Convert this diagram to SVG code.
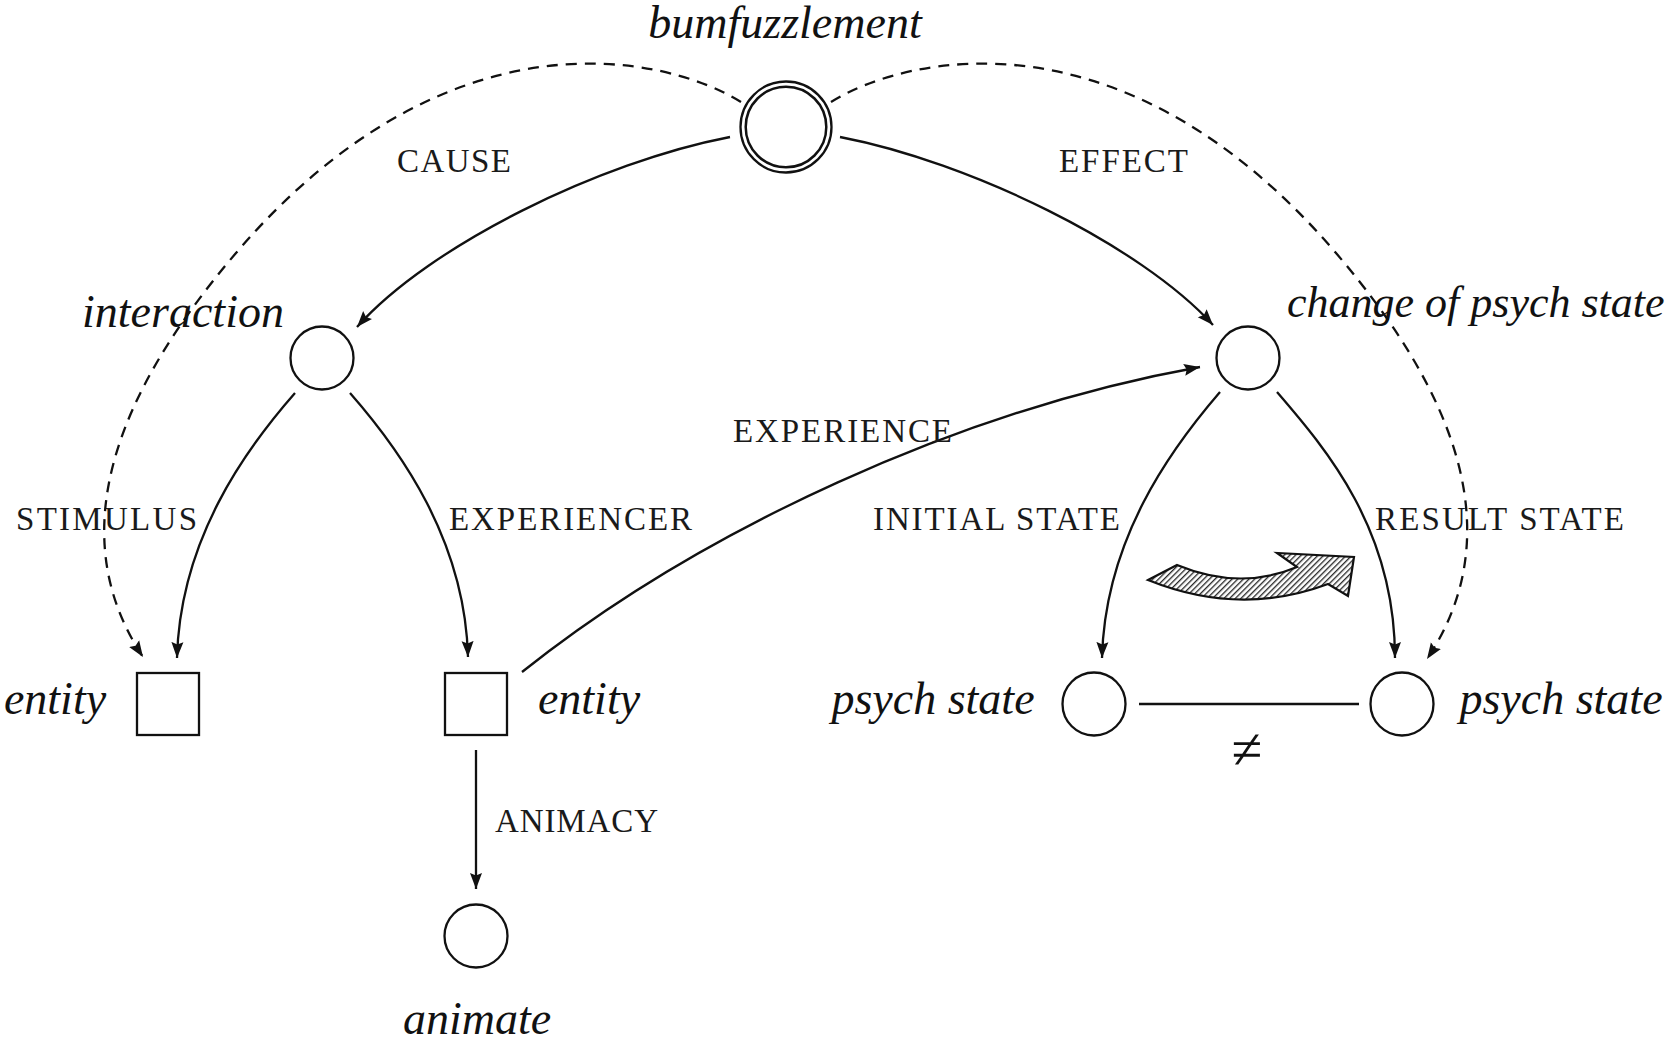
<svg xmlns="http://www.w3.org/2000/svg" width="1667" height="1041" viewBox="0 0 1667 1041">
<defs>
<style>
.node{fill:#fff;stroke:#111;stroke-width:2.3}
.lbl{font-family:"Liberation Serif",serif;font-style:italic;font-size:46px;fill:#111}
.sc{font-family:"Liberation Serif",serif;font-size:33px;fill:#1a1a1a}
.edge{fill:none;stroke:#111;stroke-width:2.3}
.arr{marker-end:url(#ah)}
.dash{stroke-dasharray:11 8}
</style>
<marker id="ah" markerUnits="userSpaceOnUse" viewBox="0 0 17 13" markerWidth="17" markerHeight="13" refX="16" refY="6.5" orient="auto">
<path d="M0,0.5 L16,6.5 L0,12.5 L2.5,6.5 z" fill="#111"/>
</marker>
<pattern id="hatch" patternUnits="userSpaceOnUse" width="4" height="4" patternTransform="rotate(45)">
<rect width="4" height="4" fill="#fff"/>
<line x1="0.7" y1="0" x2="0.7" y2="4" stroke="#111" stroke-width="1.2"/>
</pattern>
</defs>
<rect width="1667" height="1041" fill="#fff"/>

<g id="connectors">
<g id="e-cause"><path class="edge arr" d="M730,137 C600,162 430,245 357,327"/><text class="sc" x="397" y="172" textLength="114" lengthAdjust="spacing">CAUSE</text></g>
<g id="e-effect"><path class="edge arr" d="M840,137 C970,162 1140,245 1213,325"/><text class="sc" x="1059" y="172" textLength="129" lengthAdjust="spacing">EFFECT</text></g>
<g id="e-stimulus"><path class="edge arr" d="M295,393 C245,450 180,540 177,658"/><text class="sc" x="16" y="530" textLength="181" lengthAdjust="spacing">STIMULUS</text></g>
<g id="e-experiencer"><path class="edge arr" d="M350,393 C400,450 465,540 468,657"/><text class="sc" x="449" y="530" textLength="243" lengthAdjust="spacing">EXPERIENCER</text></g>
<g id="e-experience"><path class="edge arr" d="M522,672 C700,530 960,410 1200,367"/><text class="sc" x="733" y="442" textLength="219" lengthAdjust="spacing">EXPERIENCE</text></g>
<g id="e-initial"><path class="edge arr" d="M1220,392 C1170,450 1105,540 1102,658"/><text class="sc" x="873" y="530" textLength="247" lengthAdjust="spacing">INITIAL STATE</text></g>
<g id="e-result"><path class="edge arr" d="M1277,392 C1327,450 1395,530 1395,658"/><text class="sc" x="1375" y="530" textLength="249" lengthAdjust="spacing">RESULT STATE</text></g>
<g id="e-animacy"><path class="edge arr" d="M476,750 L476,889"/><text class="sc" x="495" y="832" textLength="163" lengthAdjust="spacing">ANIMACY</text></g>
<g id="e-neq"><path class="edge" d="M1139,704 L1359,704"/><text x="1247" y="768" text-anchor="middle" style="font-family:'Liberation Serif',serif;font-size:56px;fill:#111">≠</text></g>
<g id="e-dash-left"><path class="edge arr dash" d="M741,102 C660,52 444,10 236,253 C119,390 60,532 143,657"/></g>
<g id="e-dash-right"><path class="edge arr dash" d="M831,102 C912,52 1128,10 1336,253 C1453,390 1512,532 1427,659"/></g>
</g>

<g id="shift-arrow">
<path d="M1148,580 L1177,565 Q1240,591 1297,567 L1277,553 L1354,557 L1348,596 L1328,584 Q1240,617 1148,580 Z" fill="url(#hatch)" stroke="#111" stroke-width="2.2" stroke-linejoin="miter"/>
</g>

<g id="n-bumfuzzlement">
<circle cx="786" cy="127" r="45.5" class="node" stroke-width="2.5"/>
<circle cx="786" cy="127" r="40.3" fill="none" stroke="#111" stroke-width="2.5"/>
<text class="lbl" x="785" y="38" text-anchor="middle">bumfuzzlement</text>
</g>
<g id="n-interaction">
<circle cx="322" cy="358" r="31.5" class="node"/>
<text class="lbl" x="183" y="327" text-anchor="middle">interaction</text>
</g>
<g id="n-change">
<circle cx="1248" cy="358" r="31.5" class="node"/>
<text class="lbl" x="1287" y="317" style="font-size:44px">change of psych state</text>
</g>
<g id="n-entity1">
<rect x="137" y="673" width="62" height="62" class="node"/>
<text class="lbl" x="55" y="714" text-anchor="middle">entity</text>
</g>
<g id="n-entity2">
<rect x="445" y="673" width="62" height="62" class="node"/>
<text class="lbl" x="589" y="714" text-anchor="middle">entity</text>
</g>
<g id="n-psych1">
<circle cx="1094" cy="704" r="31.5" class="node"/>
<text class="lbl" x="933" y="714" text-anchor="middle">psych state</text>
</g>
<g id="n-psych2">
<circle cx="1402" cy="704" r="31.5" class="node"/>
<text class="lbl" x="1561" y="714" text-anchor="middle">psych state</text>
</g>
<g id="n-animate">
<circle cx="476" cy="936" r="31.5" class="node"/>
<text class="lbl" x="477" y="1034" text-anchor="middle">animate</text>
</g>
</svg>
